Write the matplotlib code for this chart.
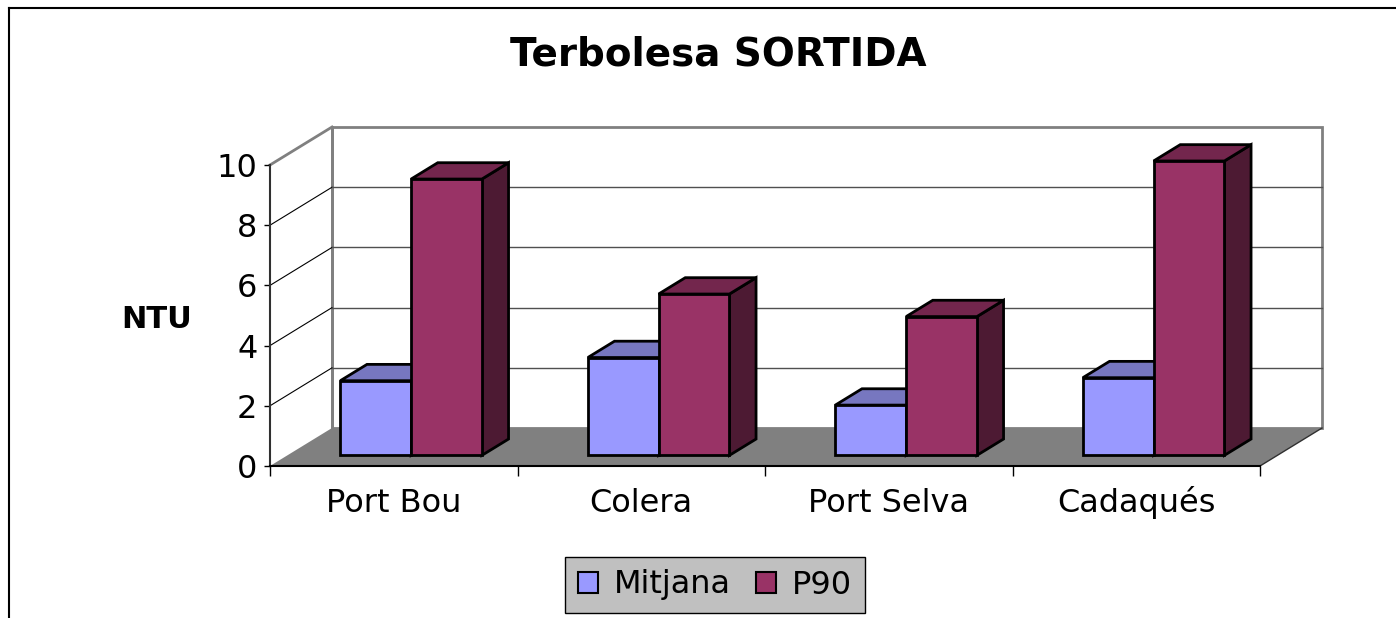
import matplotlib.pyplot as plt
from matplotlib.patches import Polygon, Patch
from matplotlib.lines import Line2D

# data
categories = ['Port Bou', 'Colera', 'Port Selva', 'Cadaqués']
mitjana = [2.48, 3.25, 1.67, 2.58]
p90 = [9.18, 5.36, 4.61, 9.78]
series_names = ['Mitjana', 'P90']
yticks = [0, 2, 4, 6, 8, 10]

# face colours: front, top, side
colors = {
    'Mitjana': ('#9999FF', '#7777C0', '#4D4D80'),
    'P90': ('#993366', '#73264D', '#4D1A33'),
}

DX, DY = 0.2505, 1.262    # depth offset (category units, value units)
F0, F1 = 0.28, 0.71       # bar front/back depth fraction
W = 0.286                 # bar width

fig = plt.figure(figsize=(13.96, 6.18), dpi=100)
ax = fig.add_axes([270/1396, 1 - 466/618, 990/1396, 301/618])
ax.set_xlim(0, len(categories))
ax.set_ylim(0, 10)
ax.patch.set_visible(False)


def pj(x, y, f):
    return (x + f*DX, y + f*DY)


def poly(pts, fc, ec='none', lw=0, z=1):
    ax.add_patch(Polygon(pts, closed=True, facecolor=fc, edgecolor=ec,
                         linewidth=lw, zorder=z, clip_on=False,
                         joinstyle='miter'))


n = len(categories)
ymax = yticks[-1]
# back wall
poly([pj(0, 0, 1), pj(n, 0, 1), pj(n, ymax, 1), pj(0, ymax, 1)], 'white',
     ec='#808080', lw=2, z=0.5)
# floor
poly([pj(0, 0, 0), pj(n, 0, 0), pj(n, 0, 1), pj(0, 0, 1)], '#808080', z=0.6)
# floor right edge
x0, y0 = pj(n, 0, 0)
x1, y1 = pj(n, 0, 1)
ax.plot([x0, x1], [y0, y1], color='#303030', lw=1, zorder=0.7, clip_on=False)
# left wall top edge and back edge
xa, ya = pj(0, ymax, 1)
ax.plot([0, xa], [ymax, ya], color='#808080', lw=2, zorder=0.7, clip_on=False)
ax.plot([xa, xa], [DY, ya], color='#808080', lw=2, zorder=0.7, clip_on=False)

# gridlines
for t in yticks[1:-1]:
    xb, yb = pj(0, t, 1)
    xc, yc = pj(n, t, 1)
    ax.plot([0, xb], [t, yb], color='black', lw=0.8, zorder=0.8, clip_on=False)
    ax.plot([xb, xc], [yb, yc], color='#505050', lw=1, zorder=0.8, clip_on=False)

# bars
for i in range(n):
    for j, (name, vals) in enumerate([('Mitjana', mitjana), ('P90', p90)]):
        front, top, side = colors[name]
        xl = i + 0.5 - W + j*W
        xr = xl + W
        v = vals[i]
        z = 2 + j
        poly([pj(xr, 0, F0), pj(xr, 0, F1), pj(xr, v, F1), pj(xr, v, F0)],
             side, ec='black', lw=2, z=z)
        poly([pj(xl, v, F0), pj(xr, v, F0), pj(xr, v, F1), pj(xl, v, F1)],
             top, ec='black', lw=2, z=z)
        poly([pj(xl, 0, F0), pj(xr, 0, F0), pj(xr, v, F0), pj(xl, v, F0)],
             front, ec='black', lw=2, z=z)

# axes
for s in ['top', 'right']:
    ax.spines[s].set_visible(False)
ax.spines['left'].set_color('#303030')
ax.spines['left'].set_linewidth(1.5)
ax.spines['bottom'].set_linewidth(1.5)
ax.set_yticks(yticks)
ax.tick_params(axis='y', length=4, width=1, pad=5, labelsize=23)
ax.set_xticks(range(n + 1))
ax.set_xticklabels([])
ax.tick_params(axis='x', which='major', length=7, width=1)
# category labels on a common baseline
for i, c in enumerate(categories):
    ax.text(i + 0.5, -46/301, c, transform=ax.get_xaxis_transform(),
            ha='center', va='baseline', fontsize=23)

fig.text(718/1396, 1 - 55/618, 'Terbolesa SORTIDA', ha='center', va='center',
         fontsize=28, fontweight='bold')
fig.text(157/1396, 1 - 320/618, 'NTU', ha='center', va='center',
         fontsize=22, fontweight='bold')

handles = [Patch(facecolor=colors[s][0], edgecolor='black', linewidth=1.5)
           for s in series_names]
leg = fig.legend(handles, series_names, loc='center',
                 bbox_to_anchor=(715/1396, 1 - 585/618), ncol=2,
                 frameon=True, fancybox=False, facecolor='#C0C0C0',
                 edgecolor='black', framealpha=1, fontsize=23,
                 handlelength=0.62, handleheight=0.62, handletextpad=0.5,
                 columnspacing=0.8, borderpad=0.4, borderaxespad=0)
leg.get_frame().set_linewidth(1)

# outer chart border
fig.add_artist(Line2D([9/1396, 9/1396], [0, 1 - 8/618], color='black', lw=1.5))
fig.add_artist(Line2D([9/1396, 1], [1 - 8/618, 1 - 8/618], color='black', lw=1.5))

fig.savefig('out.png', dpi=100)
